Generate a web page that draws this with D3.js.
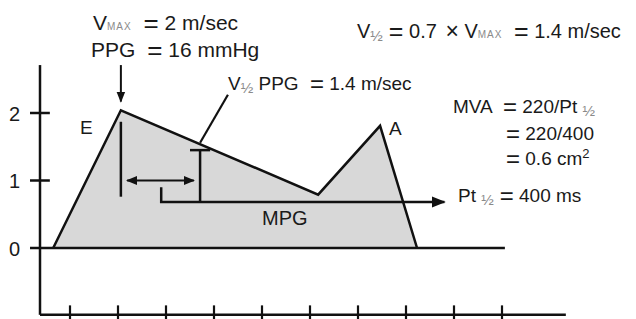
<!DOCTYPE html>
<html>
<head>
<meta charset="utf-8">
<script src="https://cdn.jsdelivr.net/npm/d3@7"></script>
<style>
  body { margin: 0; background: #fff; }
  svg text { font-family: "Liberation Sans", Arial, sans-serif; fill: #1a1a1a; white-space: pre; }
  .sub { fill: #8a8a8a; }
</style>
</head>
<body>
<div id="chart"></div>
<script>
// time in ms, velocity in m/sec
var timeTicks = [100, 200, 300, 400, 500, 600, 700, 800, 900, 1000];
var velTicks = [0, 1, 2];
var envTime = [65, 206, 617, 746, 823];
var envVel = [0, 2.04, 0.79, 1.81, 0];

var width = 636, height = 319;

var x = d3.scaleLinear().domain([0, 1000]).range([22, 502]);
var y = d3.scaleLinear().domain([0, 2]).range([248, 113]);

var svg = d3.select("#chart").append("svg")
    .attr("width", width)
    .attr("height", height);

var defs = svg.append("defs");
defs.append("marker")
    .attr("id", "head")
    .attr("viewBox", "0 0 10 10")
    .attr("refX", 9).attr("refY", 5)
    .attr("markerWidth", 5.5).attr("markerHeight", 5.5)
    .attr("markerUnits", "strokeWidth")
    .attr("orient", "auto-start-reverse")
  .append("path")
    .attr("d", "M0,1 L10,5 L0,9 Z")
    .attr("fill", "#111");

// envelope
var pts = envTime.map(function(t, i) { return [t, envVel[i]]; });
var line = d3.line().x(function(d) { return x(d[0]); }).y(function(d) { return y(d[1]); });
svg.append("path")
    .attr("d", line(pts) + "Z")
    .attr("fill", "#d8d8d8")
    .attr("stroke", "none");
svg.append("path")
    .attr("d", line(pts))
    .attr("fill", "none")
    .attr("stroke", "#111")
    .attr("stroke-width", 2.5);

// y axis
var yAxis = d3.axisLeft(y).tickValues(velTicks).tickFormat(d3.format("d")).tickSize(0);
var gy = svg.append("g").attr("transform", "translate(" + x(37.5) + ",0)").call(yAxis);
gy.select(".domain").remove();
gy.selectAll("text").style("font-size", "20px").attr("dy", "0.36em").attr("x", -20);
svg.append("line")
    .attr("x1", x(37.5)).attr("x2", x(37.5))
    .attr("y1", y(2.71)).attr("y2", y(-0.99))
    .attr("stroke", "#111").attr("stroke-width", 2.5);
svg.selectAll(".ytick").data(velTicks).enter().append("line")
    .attr("x1", x(16.7)).attr("x2", function(d) { return d === 0 ? x(1006) : x(58); })
    .attr("y1", function(d) { return y(d); }).attr("y2", function(d) { return y(d); })
    .attr("stroke", "#111").attr("stroke-width", 2.5);

// x axis
svg.append("line")
    .attr("x1", x(37.5)).attr("x2", x(1133))
    .attr("y1", y(-0.99)).attr("y2", y(-0.99))
    .attr("stroke", "#111").attr("stroke-width", 2.5);
svg.selectAll(".xtick").data(timeTicks).enter().append("line")
    .attr("x1", function(d) { return x(d); }).attr("x2", function(d) { return x(d); })
    .attr("y1", y(-0.85)).attr("y2", height)
    .attr("stroke", "#111").attr("stroke-width", 2.2);

function seg(a, b, arrow, sw) {
  var l = svg.append("line")
      .attr("x1", x(a[0])).attr("y1", y(a[1]))
      .attr("x2", x(b[0])).attr("y2", y(b[1]))
      .attr("stroke", "#111").attr("stroke-width", sw || 2.5);
  if (arrow === "end" || arrow === "both") l.attr("marker-end", "url(#head)");
  if (arrow === "both") l.attr("marker-start", "url(#head)");
  return l;
}

// annotations
seg([206, 2.71], [206, 2.17], "end", 2);            // down arrow to peak
seg([206, 1.87], [206, 0.76]);                      // line under peak
seg([219, 1.0], [358, 1.0], "both", 2);             // double arrow
svg.append("path")
    .attr("d", d3.line()([[x(290), y(0.9)], [x(290), y(0.68)], [x(880), y(0.68)]]))
    .attr("fill", "none").attr("stroke", "#111").attr("stroke-width", 2.5)
    .attr("marker-end", "url(#head)");
seg([371, 0.68], [371, 1.45]);                      // T stem
seg([350, 1.45], [392, 1.45]);                      // T bar
seg([371, 1.56], [429, 2.27], null, 2.2);           // pointer

// labels: [text, kind]
function label(tx, ty, parts, size) {
  size = size || 19;
  var t = svg.append("text").attr("x", tx).attr("y", ty).style("font-size", size + "px");
  var shift = 0;
  parts.forEach(function(p) {
    var s = t.append("tspan").text(p[0]);
    var want = 0;
    if (p[1] === "sub") s.attr("class", "sub").style("font-size", "10px").style("letter-spacing", "1px");
    if (p[1] === "half") { s.attr("class", "sub").style("font-size", "15px"); want = 3; }
    if (p[1] === "sup") { s.style("font-size", "13px"); want = -7; }
    if (p[1] === "eq") { s.style("font-size", Math.round(size * 1.25) + "px"); want = 1.5; s.attr("dx", 6); }
    if (p[1] === "times") { s.style("font-size", Math.round(size * 1.15) + "px"); want = 1; s.attr("dx", 3); }
    if (want !== shift) s.attr("dy", want - shift);
    shift = want;
  });
  return t;
}

label(93, 30, [["V"], ["MAX", "sub"], [" "], ["=", "eq"], [" 2 m/sec"]], 21);
label(91, 57, [["PPG "], ["=", "eq"], [" 16 mmHg"]], 21);
label(357, 38, [["V"], ["½", "half"], ["=", "eq"], [" 0.7 "], ["×", "times"], [" V"], ["MAX", "sub"], [" "], ["=", "eq"], [" 1.4 m/sec"]], 20);
label(228, 90, [["V"], ["½", "half"], [" PPG "], ["=", "eq"], [" 1.4 m/sec"]], 19);
label(453, 113, [["MVA "], ["=", "eq"], [" 220/Pt "], ["½", "half"]], 19);
label(500, 140, [["=", "eq"], [" 220/400"]], 19);
label(500, 165, [["=", "eq"], [" 0.6 cm"], ["2", "sup"]], 19);
label(458, 202, [["Pt "], ["½", "half"], ["=", "eq"], [" 400 ms"]], 19);
label(262, 225, [["MPG"]], 20);
label(80, 134, [["E"]], 19);
label(389, 135, [["A"]], 19);
</script>
</body>
</html>
